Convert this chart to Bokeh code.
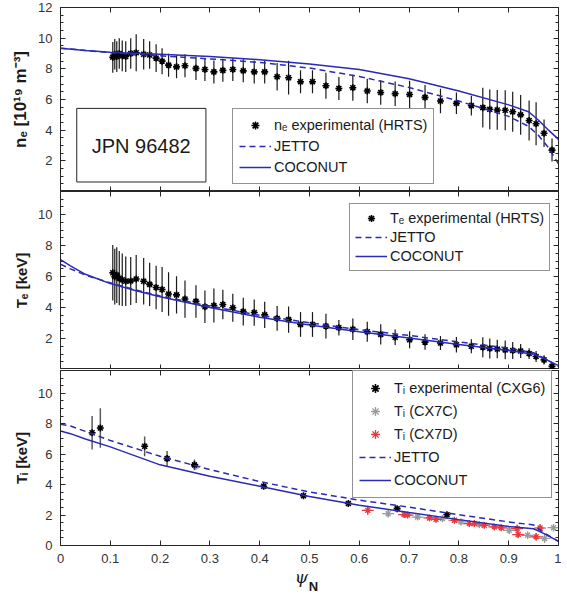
import numpy as np
from bokeh.plotting import figure
from bokeh.models import (Range1d, LinearAxis, FixedTicker, Legend, LegendItem,
                          Label, BoxAnnotation)
from bokeh.layouts import column
from bokeh.embed import file_html
from bokeh.resources import INLINE

# ---------------- data ----------------
psi_hrts = [0.105, 0.109, 0.113, 0.118, 0.124, 0.131, 0.141, 0.152, 0.167, 0.179,
            0.192, 0.204, 0.217, 0.233, 0.25, 0.272, 0.29, 0.308, 0.326, 0.346,
            0.367, 0.389, 0.41, 0.435, 0.458, 0.482, 0.506, 0.533, 0.559, 0.587,
            0.616, 0.643, 0.672, 0.701, 0.732, 0.763, 0.795, 0.825, 0.848, 0.862,
            0.877, 0.893, 0.908, 0.924, 0.941, 0.955, 0.971, 0.987]
ne_hrts = [8.75, 8.95, 8.8, 9.0, 8.85, 8.8, 9.0, 9.05, 8.95, 8.9,
           8.7, 8.5, 8.24, 8.13, 8.2, 8.03, 7.96, 7.8, 7.9, 7.96,
           7.87, 7.8, 7.8, 7.48, 7.42, 7.16, 7.16, 6.9, 6.72, 6.77,
           6.55, 6.46, 6.38, 6.33, 6.14, 5.9, 5.75, 5.6, 5.47, 5.36,
           5.32, 5.3, 5.2, 5.0, 4.63, 4.42, 3.8, 2.7]
ne_err = [1.0, 1.0, 1.0, 1.0, 1.0, 1.0, 1.0, 1.2, 1.0, 0.9,
          0.9, 0.85, 0.75, 0.75, 0.75, 0.76, 0.75, 0.75, 0.75, 0.75,
          0.75, 0.75, 0.75, 0.9, 1.1, 0.75, 0.75, 0.85, 0.75, 0.85,
          0.8, 0.8, 0.8, 0.9, 0.8, 0.8, 0.7, 0.65, 1.3, 1.3,
          1.3, 1.3, 1.3, 1.3, 1.3, 1.4, 0.9, 0.75]
te_hrts = [6.25, 6.0, 6.1, 5.9, 5.8, 5.7, 5.72, 5.85, 5.7, 5.5,
           5.3, 5.17, 4.88, 4.82, 4.55, 4.4, 4.05, 4.13, 4.2, 3.99,
           3.74, 3.68, 3.53, 3.3, 3.22, 2.91, 2.91, 2.8, 2.7, 2.6,
           2.44, 2.27, 2.08, 1.92, 1.77, 1.71, 1.6, 1.5, 1.44, 1.36,
           1.32, 1.27, 1.23, 1.19, 1.03, 0.84, 0.62, 0.2]
te_err = [1.8, 1.8, 1.8, 1.75, 1.7, 1.6, 1.55, 1.55, 1.5, 1.4,
          1.4, 1.45, 1.4, 1.2, 1.2, 1.05, 1.05, 1.1, 0.95, 0.9,
          0.9, 0.85, 0.85, 0.8, 0.85, 0.8, 0.8, 0.8, 0.5, 0.7,
          0.65, 0.65, 0.5, 0.55, 0.5, 0.45, 0.5, 0.45, 0.65, 0.65,
          0.6, 0.6, 0.55, 0.45, 0.35, 0.35, 0.3, 0.25]

psi_ne_model = [0, 0.05, 0.1, 0.2, 0.3, 0.4, 0.5, 0.6, 0.7, 0.8, 0.9, 0.94, 0.96, 0.98, 1.0]
ne_coconut = [9.35, 9.2, 9.08, 8.95, 8.8, 8.6, 8.32, 7.95, 7.35, 6.55, 5.65, 5.2, 4.65, 4.0, 3.4]
ne_jetto = [9.35, 9.2, 9.05, 8.85, 8.65, 8.42, 8.05, 7.5, 6.78, 5.9, 4.9, 4.25, 3.65, 2.85, 1.8]

psi_te_model = [0, 0.02, 0.05, 0.1, 0.15, 0.2, 0.3, 0.4, 0.5, 0.6, 0.7, 0.8, 0.9, 0.95, 0.97, 1.0]
te_coconut = [7.1, 6.7, 6.15, 5.55, 5.1, 4.7, 4.0, 3.38, 2.87, 2.44, 2.03, 1.62, 1.22, 0.98, 0.72, 0.25]
te_jetto = [6.8, 6.5, 6.1, 5.6, 5.15, 4.75, 4.1, 3.5, 3.02, 2.57, 2.2, 1.78, 1.38, 1.08, 0.75, 0.2]

psi_ti_model = [0, 0.02, 0.05, 0.1, 0.2, 0.3, 0.4, 0.5, 0.6, 0.7, 0.8, 0.9, 0.95, 0.97, 1.0]
ti_coconut = [7.52, 7.35, 7.0, 6.48, 5.3, 4.55, 3.9, 3.22, 2.65, 2.17, 1.7, 1.25, 1.1, 0.8, 0.27]
ti_jetto = [7.97, 7.85, 7.5, 6.9, 5.86, 4.99, 4.2, 3.52, 2.98, 2.52, 2.02, 1.55, 1.35, 0.85, 0.27]

psi_cxg6 = [0.0635, 0.080, 0.169, 0.214, 0.269, 0.408, 0.488, 0.578, 0.676, 0.776]
ti_cxg6 = [7.41, 7.72, 6.52, 5.71, 5.3, 3.89, 3.27, 2.76, 2.42, 2.02]
ti_cxg6_err = [1.1, 1.3, 0.65, 0.5, 0.35, 0.15, 0.1, 0.1, 0.15, 0.1]

psi_cx7c = [0.272, 0.658, 0.717, 0.767, 0.804, 0.841, 0.901, 0.938, 0.972, 0.99]
ti_cx7c = [5.2, 2.09, 1.87, 1.77, 1.55, 1.37, 1.0, 0.67, 0.46, 1.17]
ti_cx7c_err = [0.2, 0.25, 0.2, 0.2, 0.2, 0.2, 0.25, 0.25, 0.3, 0.25]
psi_cx7c_err = [0.01, 0.012, 0.012, 0.012, 0.012, 0.012, 0.012, 0.012, 0.012, 0.012]

psi_cx7d = [0.617, 0.69, 0.697, 0.741, 0.754, 0.791, 0.821, 0.831, 0.851, 0.871,
            0.885, 0.917, 0.919, 0.955, 0.963]
ti_cx7d = [2.31, 2.03, 2.0, 1.81, 1.72, 1.66, 1.44, 1.44, 1.33, 1.22,
           1.16, 1.11, 0.72, 0.57, 1.15]
ti_cx7d_err = [0.3, 0.2, 0.2, 0.2, 0.2, 0.2, 0.2, 0.2, 0.2, 0.2,
               0.2, 0.25, 0.25, 0.25, 0.25]
psi_cx7d_err = [0.012] * 15

x_ticks = [0, 0.1, 0.2, 0.3, 0.4, 0.5, 0.6, 0.7, 0.8, 0.9, 1]
x_tick_labels = ["0", "0.1", "0.2", "0.3", "0.4", "0.5", "0.6", "0.7", "0.8", "0.9", "1"]
ne_ticks = [2, 4, 6, 8, 10, 12]
te_ticks = [2, 4, 6, 8, 10]
ti_ticks = [0, 2, 4, 6, 8, 10]

# ---------------- style ----------------
BLUE = "#2a2ab4"
AX = "#262626"
FONT = "Liberation Sans"
W = 561


def add_axis(p, side, ticks, minor, labels=None, tick_font="13px"):
    ax = LinearAxis(ticker=FixedTicker(ticks=ticks, minor_ticks=minor),
                    major_tick_in=5, major_tick_out=0, minor_tick_in=3, minor_tick_out=0,
                    axis_line_color=AX, major_tick_line_color=AX, minor_tick_line_color=AX)
    if labels is None:
        ax.major_label_overrides = {t: "" for t in ticks}
        ax.major_label_text_font_size = "0px"
        ax.major_label_standoff = 0
        ax.axis_label_standoff = 0
    else:
        ax.major_label_overrides = labels
        ax.major_label_text_font = FONT
        ax.major_label_text_font_size = tick_font
        ax.major_label_text_color = "#333333"
        ax.major_label_standoff = 8
    p.add_layout(ax, side)
    return ax


def text_axis(p, pos, text, font, size, style, standoff):
    # a bare axis (no line, no ticks) used only to place an axis-title piece
    ax = LinearAxis(ticker=FixedTicker(ticks=[pos], minor_ticks=[]),
                    major_label_overrides={pos: text},
                    axis_line_color=None, major_tick_line_color=None,
                    minor_tick_line_color=None, major_tick_in=0, major_tick_out=0,
                    minor_tick_in=0, minor_tick_out=0,
                    major_label_text_font=font, major_label_text_font_size=size,
                    major_label_text_font_style=style, major_label_text_color="#1a1a1a",
                    major_label_standoff=standoff)
    p.add_layout(ax, "below")
    return ax


def make_fig(height, top, bottom, ymax, yticks, ylabel, show_x, ylabel_size="15px"):
    p = figure(width=W, height=height, x_range=Range1d(0, 1), y_range=Range1d(0, ymax),
               output_backend="svg", toolbar_location=None,
               x_axis_location=None, y_axis_location=None,
               min_border_left=60, min_border_right=3,
               min_border_top=top, min_border_bottom=bottom,
               background_fill_color="white", border_fill_color="white",
               outline_line_color=AX, outline_line_width=1)
    p.grid.visible = False
    yminor = [float(v) for v in np.arange(0.5, ymax + 0.01, 0.5)]
    ylab = add_axis(p, "left", yticks, yminor, {t: str(t) for t in yticks})
    ylab.axis_label = ylabel
    ylab.axis_label_text_font = FONT
    ylab.axis_label_text_font_style = "bold"
    ylab.axis_label_text_font_size = ylabel_size
    ylab.axis_label_text_color = "#1a1a1a"
    ylab.axis_label_standoff = 5
    add_axis(p, "right", yticks, yminor)
    add_axis(p, "above", x_ticks, [])
    if show_x:
        add_axis(p, "below", x_ticks, [], dict(zip(x_ticks, x_tick_labels)))
        text_axis(p, 0.484, "ψ", "DejaVu Serif", "17px", "italic", 1)
        text_axis(p, 0.508, "N", FONT, "13px", "bold", -11)
    else:
        add_axis(p, "below", x_ticks, [])
    return p


def err_segments(p, x, y, e, color, width=1.2):
    y = np.array(y)
    e = np.array(e)
    return p.segment(x0=x, y0=y - e, x1=x, y1=y + e, line_color=color, line_width=width)


def xerr_segments(p, x, y, ex, color, width=1.2):
    x = np.array(x)
    ex = np.array(ex)
    return p.segment(x0=x - ex, y0=y, x1=x + ex, y1=y, line_color=color, line_width=width)


def make_legend(items, loc, item_h=20, pad=6):
    return Legend(items=items, location=loc, margin=0, padding=pad, spacing=1,
                  label_height=item_h, glyph_height=item_h, glyph_width=32, label_standoff=3,
                  label_text_font=FONT, label_text_font_size="14.5px",
                  label_text_color="#1a1a1a",
                  border_line_color=AX, border_line_width=1,
                  background_fill_color="white", background_fill_alpha=1)


# ---------------- panel 1: ne ----------------
p1 = make_fig(191, 7, 0, 12, ne_ticks, "nₑ [10¹⁹ m⁻³]", False, "17px")
err_segments(p1, psi_hrts, ne_hrts, ne_err, "#1a1a1a")
s1 = p1.scatter(psi_hrts, ne_hrts, marker="asterisk", size=7, line_width=1.6, line_color="black")
c1 = p1.scatter(x=[], y=[], marker="cross", size=8, line_color="black", line_width=1)
j1 = p1.line(psi_ne_model, ne_jetto, line_color=BLUE, line_width=1.5, line_dash="6 4")
k1 = p1.line(psi_ne_model, ne_coconut, line_color=BLUE, line_width=1.5)
p1.add_layout(BoxAnnotation(left=0.0326, right=0.292, bottom=0.62, top=5.42,
                            fill_color="white", fill_alpha=1, line_color=AX, line_width=1,
                            line_alpha=1))
p1.add_layout(Label(x=0.162, y=3.0, text="JPN 96482", text_font=FONT, text_font_size="20px",
                    text_color="#1a1a1a", text_align="center", text_baseline="middle"))
p1.add_layout(make_legend([
    LegendItem(label="nₑ experimental (HRTS)", renderers=[c1, s1]),
    LegendItem(label="JETTO", renderers=[j1]),
    LegendItem(label="COCONUT", renderers=[k1]),
], (172, 7), 20, 6))

# ---------------- panel 2: Te ----------------
p2 = make_fig(178, 0, 0, 11.5, te_ticks, "Tₑ [keV]", False)
err_segments(p2, psi_hrts, te_hrts, te_err, "#1a1a1a")
s2 = p2.scatter(psi_hrts, te_hrts, marker="asterisk", size=7, line_width=1.6, line_color="black")
c2 = p2.scatter(x=[], y=[], marker="cross", size=8, line_color="black", line_width=1)
j2 = p2.line(psi_te_model, te_jetto, line_color=BLUE, line_width=1.5, line_dash="6 4")
k2 = p2.line(psi_te_model, te_coconut, line_color=BLUE, line_width=1.5)
p2.add_layout(make_legend([
    LegendItem(label="Tₑ experimental (HRTS)", renderers=[c2, s2]),
    LegendItem(label="JETTO", renderers=[j2]),
    LegendItem(label="COCONUT", renderers=[k2]),
], (289, 98), 18, 5))

# ---------------- panel 3: Ti ----------------
p3 = make_fig(227, 1, 49, 11.5, ti_ticks, "Tᵢ [keV]", True)
GRAY = "#9a9a9a"
RED = "#e8383d"
err_segments(p3, psi_cx7c, ti_cx7c, ti_cx7c_err, GRAY)
xerr_segments(p3, psi_cx7c, ti_cx7c, psi_cx7c_err, GRAY)
s3c = p3.scatter(psi_cx7c, ti_cx7c, marker="asterisk", size=7, line_width=1.3, line_color=GRAY)
err_segments(p3, psi_cx7d, ti_cx7d, ti_cx7d_err, RED)
xerr_segments(p3, psi_cx7d, ti_cx7d, psi_cx7d_err, RED)
s3d = p3.scatter(psi_cx7d, ti_cx7d, marker="asterisk", size=7, line_width=1.3, line_color=RED)
err_segments(p3, psi_cxg6, ti_cxg6, ti_cxg6_err, "#5a5a5a", 1.5)
s3 = p3.scatter(psi_cxg6, ti_cxg6, marker="asterisk", size=7, line_width=1.6, line_color="black")
c3 = p3.scatter(x=[], y=[], marker="cross", size=8, line_color="black", line_width=1)
c3c = p3.scatter(x=[], y=[], marker="cross", size=8, line_color=GRAY, line_width=1)
c3d = p3.scatter(x=[], y=[], marker="cross", size=8, line_color=RED, line_width=1)
j3 = p3.line(psi_ti_model, ti_jetto, line_color=BLUE, line_width=1.5, line_dash="6 4")
k3 = p3.line(psi_ti_model, ti_coconut, line_color=BLUE, line_width=1.5)
p3.add_layout(make_legend([
    LegendItem(label="Tᵢ experimental (CXG6)", renderers=[c3, s3]),
    LegendItem(label="Tᵢ (CX7C)", renderers=[c3c, s3c]),
    LegendItem(label="Tᵢ (CX7D)", renderers=[c3d, s3d]),
    LegendItem(label="JETTO", renderers=[j3]),
    LegendItem(label="COCONUT", renderers=[k3]),
], (292, 47), 22, 6))

layout = column(p1, p2, p3, spacing=0)
open("out.html", "w").write(file_html(layout, INLINE))
